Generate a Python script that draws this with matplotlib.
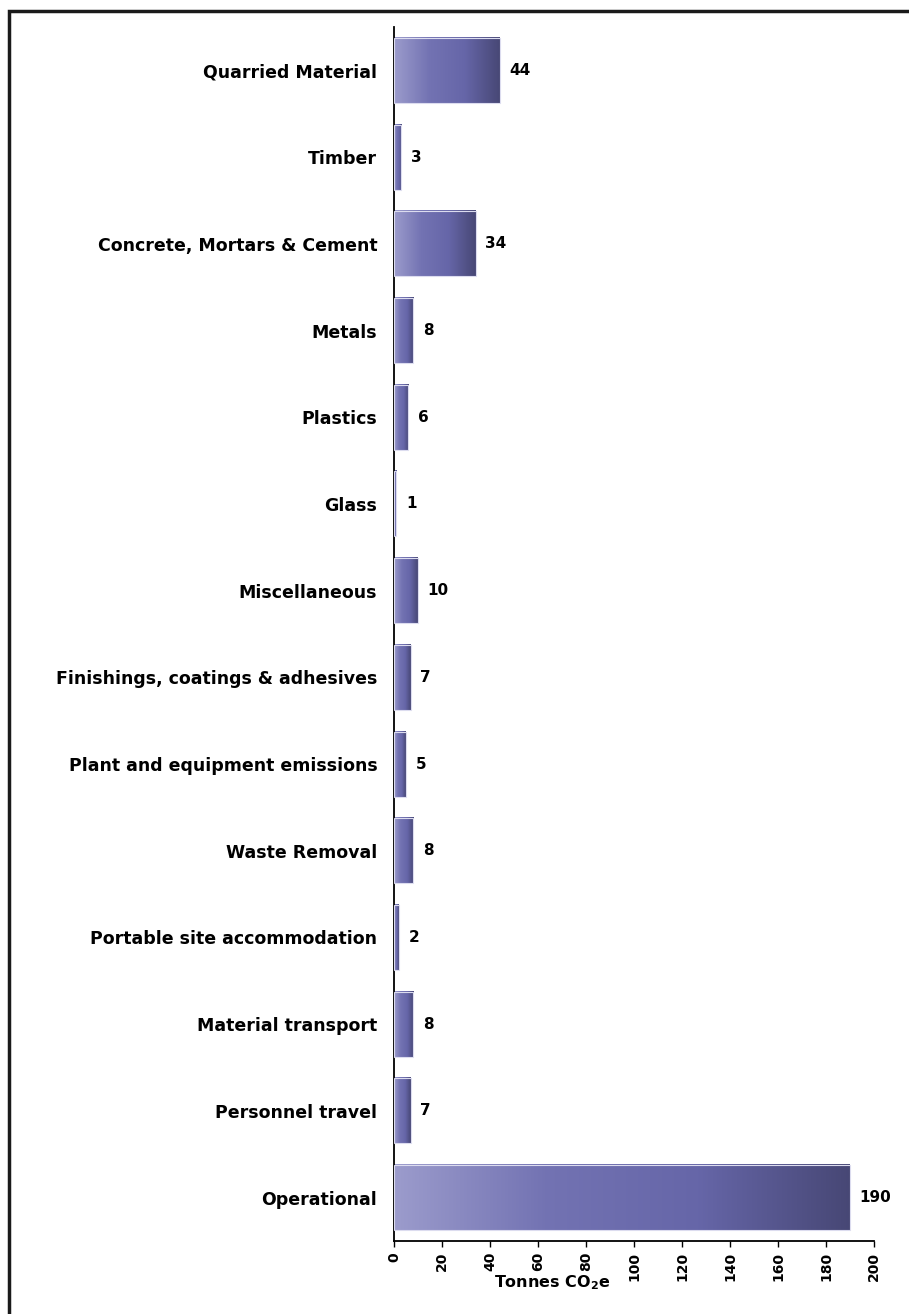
import matplotlib
matplotlib.use("Agg")
import matplotlib.pyplot as plt
import numpy as np
from matplotlib.colors import LinearSegmentedColormap
from matplotlib.patches import Rectangle

categories = ["Quarried Material", "Timber", "Concrete, Mortars & Cement", "Metals",
              "Plastics", "Glass", "Miscellaneous", "Finishings, coatings & adhesives",
              "Plant and equipment emissions", "Waste Removal", "Portable site accommodation",
              "Material transport", "Personnel travel", "Operational"]
values = [44, 3, 34, 8, 6, 1, 10, 7, 5, 8, 2, 8, 7, 190]
xticks = list(range(0, 201, 20))

plt.rcParams['font.family'] = ['DejaVu Sans']
W, H = 909, 1314
fig = plt.figure(figsize=(W / 100, H / 100), dpi=100)
fig.patch.set_facecolor("white")

# border frame (top/left visible, image cropped)
fig.add_artist(Rectangle((8.5 / W, -0.1), 1.2, 1 - 10.5 / H + 0.1, transform=fig.transFigure,
                         fill=False, edgecolor="#1a1a1a", linewidth=2.5))

ax = fig.add_axes([394 / W, 1 - 1241 / H, 480 / W, (1241 - 27) / H])
cmap = LinearSegmentedColormap.from_list("g", [(0.61, 0.61, 0.80), (0.45, 0.45, 0.70),
                                               (0.40, 0.40, 0.66), (0.28, 0.28, 0.46)])
grad = np.linspace(0, 1, 256).reshape(1, -1)
bh = 0.75
n = len(categories)
ypos = np.arange(n)
for y, v in zip(ypos, values):
    ax.imshow(grad, cmap=cmap, aspect="auto", extent=(0, v, y + bh / 2, y - bh / 2),
              interpolation="bilinear", zorder=2)
    ax.add_patch(Rectangle((0, y - bh / 2), v, bh, fill=False, edgecolor="#dcdcef",
                           linewidth=0.8, zorder=3))
    ax.text(v + 4, y, str(v), va="center", ha="left", fontsize=11, fontweight="bold", zorder=4)

ax.set_xlim(0, 200)
ax.set_ylim(n - 0.5, -0.5)
ax.set_yticks(ypos)
ax.set_yticklabels(categories, fontsize=12.5, fontweight="bold")
ax.tick_params(axis="y", length=0, pad=12)
ax.set_xticks(xticks)
ax.set_xticklabels([str(t) for t in xticks], rotation=90, fontsize=10, fontweight="bold")
ax.tick_params(axis="x", length=4, width=1, direction="out", pad=4)
for s in ["top", "right"]:
    ax.spines[s].set_visible(False)
ax.spines["left"].set_linewidth(1.3)
ax.spines["bottom"].set_linewidth(1.3)
ax.set_xlabel("Tonnes CO$_\\mathbf{2}$e", fontsize=11.5, fontweight="bold")
ax.xaxis.set_label_coords(0.33, -0.027)

fig.savefig("out.png", dpi=100)
